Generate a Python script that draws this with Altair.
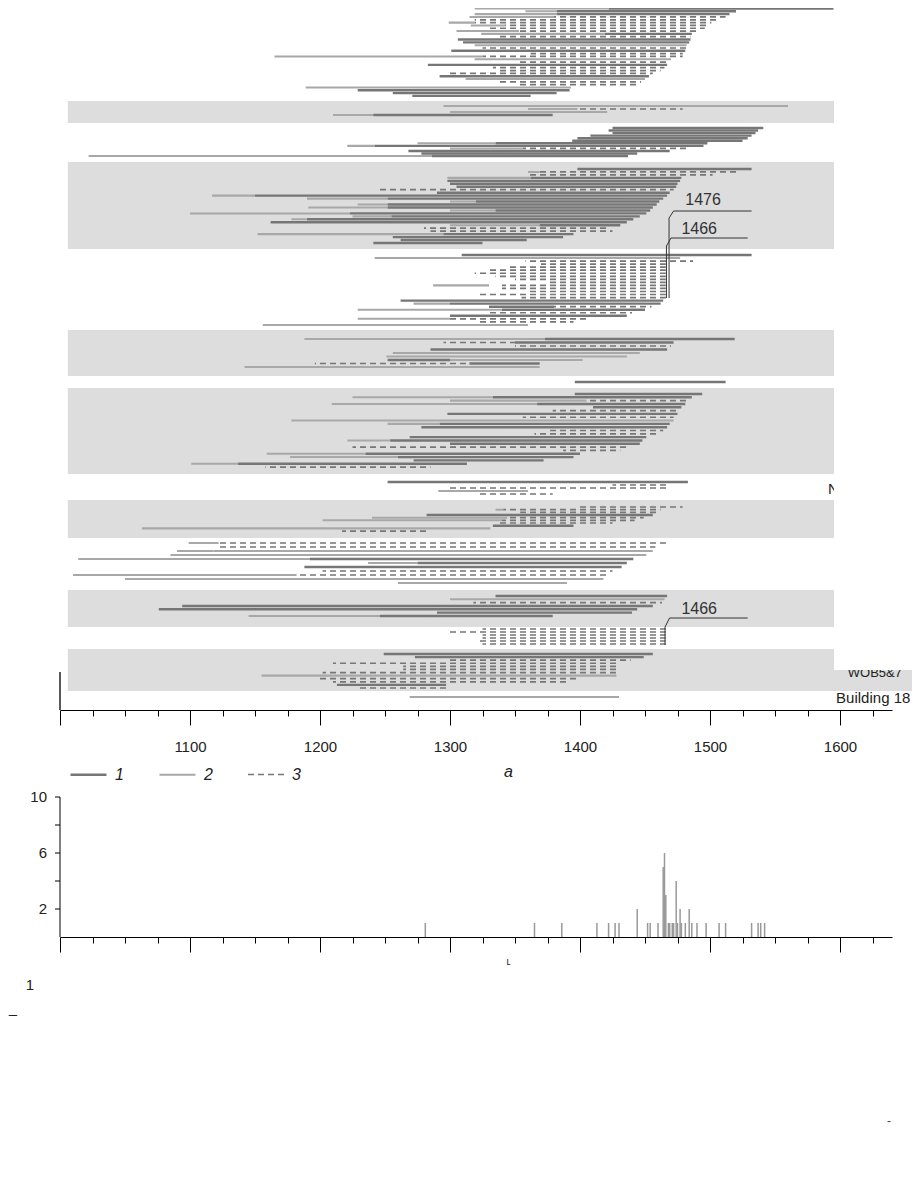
import altair as alt
import pandas as pd

# ---------------- top panel: series spans (start year, end year, line type) per row ----------------
GROUP_A = [
    [(1319, 1422, 2), (1422, 1595, 1)],
    [(1358, 1382, 2), (1382, 1520, 1)],
    [(1319, 1382, 2), (1382, 1515, 1)],
    [(1315, 1380, 2), (1380, 1512, 3)],
    [(1319, 1507, 3)],
    [(1299, 1319, 2), (1319, 1501, 3)],
    [(1316, 1342, 2), (1342, 1500, 3)],
    [(1330, 1496, 3)],
    [(1305, 1353, 2), (1353, 1490, 3)],
    [(1324, 1419, 2), (1419, 1486, 1)],
    [(1338, 1485, 3)],
    [(1306, 1485, 1)],
    [(1310, 1484, 1)],
    [(1319, 1482, 2)],
    [(1325, 1482, 3)],
    [(1301, 1481, 1)],
    [(1362, 1479, 3)],
    [(1165, 1325, 2), (1325, 1479, 3)],
    [(1319, 1470, 2)],
    [(1353, 1468, 3)],
    [(1283, 1467, 1)],
    [(1333, 1465, 3)],
    [(1336, 1462, 3)],
    [(1299, 1456, 3)],
    [(1292, 1453, 1)],
    [(1312, 1450, 2)],
    [(1338, 1447, 3)],
    [(1353, 1445, 3)],
    [(1189, 1393, 2)],
    [(1229, 1392, 1)],
    [(1256, 1382, 1)],
    [(1271, 1362, 1)],
]
GROUP_B = [
    [(1295, 1560, 2)],
    [(1360, 1398, 2), (1398, 1479, 3)],
    [(1300, 1421, 2)],
    [(1210, 1241, 2), (1241, 1379, 1)],
]
GROUP_C = [
    [(1425, 1541, 1)],
    [(1422, 1537, 1)],
    [(1425, 1535, 1)],
    [(1408, 1532, 1)],
    [(1398, 1529, 1)],
    [(1394, 1525, 1)],
    [(1275, 1335, 2), (1335, 1498, 1)],
    [(1221, 1242, 2), (1242, 1495, 1)],
    [(1300, 1356, 2), (1356, 1482, 3)],
    [(1268, 1469, 1)],
    [(1278, 1444, 1)],
    [(1022, 1286, 2), (1286, 1437, 1)],
]
GROUP_D = [
    [(1398, 1532, 1)],
    [(1360, 1369, 2), (1369, 1523, 3)],
    [(1360, 1502, 3)],
    [(1298, 1362, 2), (1362, 1478, 1)],
    [(1298, 1477, 1)],
    [(1300, 1475, 1)],
    [(1305, 1474, 1)],
    [(1244, 1472, 3)],
    [(1290, 1469, 1)],
    [(1117, 1150, 2), (1150, 1467, 1)],
    [(1190, 1252, 2), (1252, 1464, 1)],
    [(1300, 1320, 2), (1320, 1461, 1)],
    [(1229, 1252, 2), (1252, 1459, 1)],
    [(1191, 1252, 2), (1252, 1456, 1)],
    [(1300, 1335, 2), (1335, 1454, 1)],
    [(1100, 1223, 2), (1223, 1451, 1)],
    [(1225, 1255, 2), (1255, 1446, 1)],
    [(1178, 1190, 2), (1190, 1441, 1)],
    [(1162, 1436, 1)],
    [(1300, 1369, 2), (1369, 1431, 1)],
    [(1280, 1422, 3)],
    [(1285, 1425, 3)],
    [(1152, 1295, 2), (1295, 1395, 1)],
    [(1256, 1387, 1)],
    [(1262, 1359, 1)],
    [(1241, 1325, 1)],
]
GROUP_E = [
    [(1309, 1532, 1)],
    [(1242, 1477, 2)],
    [(1358, 1487, 3)],
    [(1370, 1466, 3)],
    [(1345, 1466, 3)],
    [(1330, 1466, 3)],
    [(1319, 1466, 3)],
    [(1335, 1466, 3)],
    [(1350, 1466, 3)],
    [(1375, 1466, 3)],
    [(1287, 1330, 2), (1340, 1466, 3)],
    [(1340, 1466, 3)],
    [(1360, 1466, 3)],
    [(1323, 1466, 3)],
    [(1355, 1466, 3)],
    [(1262, 1464, 1)],
    [(1272, 1300, 2), (1300, 1462, 1)],
    [(1330, 1380, 1), (1380, 1455, 3)],
    [(1229, 1340, 2), (1340, 1450, 1)],
    [(1330, 1440, 3)],
    [(1300, 1436, 1)],
    [(1229, 1300, 2), (1300, 1405, 3)],
    [(1320, 1395, 3)],
    [(1156, 1360, 2)],
]
GROUP_F = [
    [(1188, 1373, 2), (1373, 1519, 1)],
    [(1295, 1350, 3), (1350, 1472, 1)],
    [(1350, 1470, 3)],
    [(1285, 1467, 1)],
    [(1256, 1446, 2)],
    [(1251, 1436, 2)],
    [(1252, 1300, 1), (1300, 1402, 2)],
    [(1196, 1315, 3), (1315, 1369, 1)],
    [(1142, 1369, 2)],
]
GROUP_G = [
    [(1396, 1512, 1)],
]
GROUP_H = [
    [(1396, 1494, 1)],
    [(1225, 1333, 2), (1333, 1486, 1)],
    [(1300, 1405, 2), (1405, 1483, 3)],
    [(1209, 1367, 2), (1367, 1481, 1)],
    [(1410, 1478, 1)],
    [(1379, 1475, 3)],
    [(1298, 1475, 1)],
    [(1356, 1472, 3)],
    [(1178, 1472, 2)],
    [(1252, 1292, 2), (1292, 1469, 1)],
    [(1278, 1467, 1)],
    [(1377, 1464, 3)],
    [(1365, 1461, 3)],
    [(1269, 1451, 1)],
    [(1221, 1254, 2), (1254, 1448, 1)],
    [(1300, 1446, 1)],
    [(1225, 1436, 3)],
    [(1387, 1431, 3)],
    [(1159, 1235, 2), (1235, 1400, 1)],
    [(1177, 1260, 2), (1260, 1395, 1)],
    [(1272, 1372, 1)],
    [(1101, 1137, 2), (1137, 1313, 1)],
    [(1158, 1285, 3)],
]
GROUP_I = [
    [(1252, 1483, 1)],
    [(1425, 1467, 3)],
    [(1300, 1467, 3)],
    [(1291, 1360, 2)],
    [(1323, 1379, 3)],
]
GROUP_J = [
    [(1400, 1479, 3)],
    [(1335, 1341, 2), (1341, 1462, 3)],
    [(1354, 1460, 3)],
    [(1282, 1456, 1)],
    [(1240, 1344, 2), (1344, 1449, 3)],
    [(1202, 1340, 2), (1340, 1442, 3)],
    [(1338, 1425, 3)],
    [(1333, 1395, 1)],
    [(1063, 1331, 2)],
    [(1217, 1282, 3)],
]
GROUP_K = [
    [(1099, 1122, 2), (1122, 1467, 3)],
    [(1122, 1458, 3)],
    [(1090, 1118, 2), (1118, 1456, 2)],
    [(1085, 1451, 2)],
    [(1014, 1192, 2), (1192, 1441, 1)],
    [(1237, 1275, 2), (1275, 1436, 1)],
    [(1188, 1432, 1)],
    [(1202, 1425, 3)],
    [(1010, 1182, 2), (1182, 1421, 3)],
    [(1050, 1418, 2)],
    [(1260, 1390, 2)],
]
GROUP_L = [
    [(1335, 1467, 1)],
    [(1300, 1465, 2)],
    [(1318, 1463, 3)],
    [(1094, 1456, 1)],
    [(1076, 1444, 1)],
    [(1290, 1440, 1)],
    [(1145, 1246, 2), (1246, 1379, 1)],
]
GROUP_M = [
    [(1325, 1466, 3)],
    [(1300, 1466, 3)],
    [(1325, 1466, 3)],
    [(1325, 1466, 3)],
    [(1322, 1466, 3)],
    [(1325, 1466, 3)],
]
GROUP_N = [
    [(1249, 1456, 1)],
    [(1273, 1449, 1)],
    [(1300, 1439, 3)],
    [(1210, 1428, 3)],
    [(1264, 1428, 3)],
    [(1264, 1428, 3)],
    [(1202, 1428, 3)],
    [(1155, 1428, 2)],
    [(1197, 1400, 3)],
    [(1210, 1390, 3)],
    [(1213, 1297, 1)],
    [(1230, 1300, 3)],
]
GROUP_O = [
    [(1269, 1430, 2)],
]
GROUPS = [GROUP_A, GROUP_B, GROUP_C, GROUP_D, GROUP_E, GROUP_F, GROUP_G, GROUP_H,
          GROUP_I, GROUP_J, GROUP_K, GROUP_L, GROUP_M, GROUP_N, GROUP_O]

# layout of the groups: slot of first row and row spacing
GROUP_FIRST = [8.5, 106, 128, 169, 255, 339, 382, 394, 482, 507, 543, 596, 629, 654, 697]
GROUP_PITCH = [2.82, 3, 2.55, 2.96, 3.04, 3.5, 3, 3.32, 3, 2.67, 4, 3.33, 3, 3.09, 3]

# grey building bands
BAND_TOP = [101, 162, 330, 388, 500, 590, 649]
BAND_BOTTOM = [123, 249, 376, 474, 538, 627, 691]
BAND_FROM, BAND_TO = 1006, 1662

TYPE_LABELS = ["1", "2", "3"]
TYPE_COLORS = ["#767676", "#a8a8a8", "#767676"]

# annotations
ANNOT_LABELS = ["1476", "1466", "1466"]
ANNOT_YEAR = [1468.5, 1466.5, 1465.4]
ANNOT_FOOT = [298, 298, 645]
ANNOT_ELBOW = [218, 246, 627]
ANNOT_ARM = [211, 238, 618]
ANNOT_ARM_END = [1532, 1529, 1529]
ANNOT_TEXT_YEAR = [1481, 1478, 1478]
ANNOT_TEXT_SLOT = [200, 229, 609]

# ---------------- bottom panel: felling-date histogram ----------------
HIST_YEARS = [1281, 1365, 1386, 1413, 1422, 1427, 1430, 1444, 1452, 1454, 1460, 1464, 1465,
              1466, 1468, 1469, 1471, 1472, 1474, 1475, 1477, 1478, 1481, 1484, 1486, 1490,
              1497, 1507, 1512, 1532, 1537, 1539, 1542]
HIST_COUNTS = [1, 1, 1, 1, 1, 1, 1, 2, 1, 1, 1, 5, 6,
               3, 1, 1, 1, 1, 4, 1, 2, 1, 1, 2, 1, 1,
               1, 1, 1, 1, 1, 1, 1]
HIST_TICKS = [2, 4, 6, 8, 10]
HIST_TICK_LABELS = ["2", "", "6", "", "10"]

MAJOR = [1000, 1100, 1200, 1300, 1400, 1500, 1600]
MINOR = [v for v in range(1025, 1640, 25) if v % 100]

FONT = "Liberation Sans, Arial, sans-serif"
FONT_N = "Liberation Sans Narrow, Liberation Sans, Arial, sans-serif"
PX_PER_YEAR = 832 / 640

# ---------------- data tables ----------------
recs = []
for first, pitch, group in zip(GROUP_FIRST, GROUP_PITCH, GROUPS):
    for i, segs in enumerate(group):
        slot = first + i * pitch
        for s, e, t in segs:
            recs.append({"slot": slot, "start": s, "end": e, "type": str(t),
                         "dash_off": ((s - 1000) * PX_PER_YEAR) % 10})
lines_df = pd.DataFrame(recs)

bands_df = pd.DataFrame({"top": BAND_TOP, "bottom": BAND_BOTTOM,
                         "x0": [BAND_FROM] * len(BAND_TOP), "x1": [BAND_TO] * len(BAND_TOP)})

lead = []
for k in range(len(ANNOT_LABELS)):
    pts = [(ANNOT_YEAR[k], ANNOT_FOOT[k]), (ANNOT_YEAR[k], ANNOT_ELBOW[k]),
           (ANNOT_YEAR[k] + 3.5, ANNOT_ARM[k]), (ANNOT_ARM_END[k], ANNOT_ARM[k])]
    for j, (xx, yy) in enumerate(pts):
        lead.append({"id": k, "ord": j, "x": xx, "y": yy})
lead_df = pd.DataFrame(lead)
annot_df = pd.DataFrame({"label": ANNOT_LABELS, "x": ANNOT_TEXT_YEAR, "y": ANNOT_TEXT_SLOT})

hist_df = pd.DataFrame({"year": HIST_YEARS, "count": HIST_COUNTS, "base": [0] * len(HIST_YEARS)})
hist_tick_df = pd.DataFrame({"v": HIST_TICKS, "lab": HIST_TICK_LABELS})

X_SCALE = alt.Scale(domain=[1000, 1640], nice=False, zero=False)
Y_TOP = alt.Scale(domain=[8, 710], range=[0, 702], nice=False, zero=False)
Y_HIST = alt.Scale(domain=[0, 10], range=[929, 789], nice=False, zero=False)

top_major_axis = alt.Axis(
    orient="bottom", offset=-227, values=MAJOR, tickSize=15, tickColor="#000", domainColor="#000",
    labelExpr="datum.value == 1000 ? '' : datum.label", labelFont=FONT_N, labelFontSize=15,
    labelColor="#222", labelPadding=14, labelOverlap=False, labelFlush=False, grid=False, format="d",
    title="a", titleFont=FONT, titleFontSize=16, titleFontStyle="italic", titleFontWeight="normal",
    titleColor="#222", titleX=448, titleY=61, titleBaseline="middle")
top_minor_axis = alt.Axis(orient="bottom", offset=-227, values=MINOR, tickSize=6, tickColor="#000",
                          labels=False, domain=False, grid=False, title=None)
bot_major_axis = alt.Axis(orient="bottom", values=MAJOR, tickSize=15, tickColor="#000", domainColor="#000",
                          labels=False, grid=False, title="ʟ", titleFontSize=10, titleColor="#222",
                          titleFontWeight="normal", titleX=448, titleY=19)
bot_minor_axis = alt.Axis(orient="bottom", values=MINOR, tickSize=6, tickColor="#000",
                          labels=False, domain=False, grid=False, title=None)

LEGEND = alt.Legend(title=None, orient="none", legendX=9, legendY=747, direction="horizontal",
                    symbolType="stroke", symbolSize=1296, symbolStrokeWidth=2.5, labelFont=FONT,
                    labelFontSize=16, labelFontStyle="italic", labelColor="#222", labelOffset=7,
                    columnPadding=31)

bands = alt.Chart(bands_df).mark_rect(color="#dddddd").encode(
    x=alt.X("x0:Q", scale=X_SCALE, axis=top_minor_axis), x2="x1:Q",
    y=alt.Y("top:Q", scale=Y_TOP, axis=None), y2="bottom:Q")

lines = alt.Chart(lines_df).mark_rule(strokeDashOffset={"expr": "datum.dash_off"}).encode(
    x=alt.X("start:Q", scale=X_SCALE, axis=top_major_axis), x2="end:Q",
    y=alt.Y("slot:Q", scale=Y_TOP, axis=None),
    color=alt.Color("type:N", scale=alt.Scale(domain=TYPE_LABELS, range=TYPE_COLORS), legend=LEGEND),
    strokeDash=alt.StrokeDash("type:N", scale=alt.Scale(domain=TYPE_LABELS, range=[[1, 0], [1, 0], [6, 4]]),
                              legend=LEGEND),
    strokeWidth=alt.StrokeWidth("type:O", scale=alt.Scale(domain=TYPE_LABELS, range=[2.4, 1.7, 2.4]),
                                legend=None),
)

leaders = alt.Chart(lead_df).mark_line(color="#333", strokeWidth=1).encode(
    x=alt.X("x:Q", scale=X_SCALE, axis=None), y=alt.Y("y:Q", scale=Y_TOP, axis=None),
    detail="id:N", order="ord:Q")
leader_text = alt.Chart(annot_df).mark_text(align="left", baseline="middle", font=FONT, fontSize=16,
                                            fill="#333").encode(
    x=alt.X("x:Q", scale=X_SCALE, axis=None), y=alt.Y("y:Q", scale=Y_TOP, axis=None), text="label:N")

left_line = alt.Chart(pd.DataFrame({"x": [1000], "y1": [672], "y2": [710]})).mark_rule(
    color="#222", strokeWidth=1.5).encode(
    x=alt.X("x:Q", scale=X_SCALE, axis=None), y=alt.Y("y1:Q", scale=Y_TOP, axis=None), y2="y2:Q")

hidden_labels = alt.Chart(pd.DataFrame({"t": ["N", "WOB5&7"], "x": [1590.8, 1606], "y": [494, 677],
                                        "s": [15, 13]})).mark_text(
    align="left", baseline="alphabetic", font=FONT, fill="#222").encode(
    x=alt.X("x:Q", scale=X_SCALE, axis=None), y=alt.Y("y:Q", scale=Y_TOP, axis=None), text="t:N",
    size=alt.Size("s:Q", scale=None, legend=None))

white_rect = alt.Chart(pd.DataFrame({"x0": [1595.4], "x1": [1662], "t": [8], "b": [670]})).mark_rect(
    color="white").encode(
    x=alt.X("x0:Q", scale=X_SCALE, axis=None), x2="x1:Q",
    y=alt.Y("t:Q", scale=Y_TOP, axis=None), y2="b:Q")

building = alt.Chart(pd.DataFrame({"t": ["Building 18"], "x": [1597], "y": [703]})).mark_text(
    align="left", baseline="alphabetic", font=FONT, fontSize=15, fill="#222").encode(
    x=alt.X("x:Q", scale=X_SCALE, axis=None), y=alt.Y("y:Q", scale=Y_TOP, axis=None), text="t:N")

# histogram
hist = alt.Chart(hist_df).mark_rule(color="#999999", strokeWidth=1.5).encode(
    x=alt.X("year:Q", scale=X_SCALE, axis=bot_major_axis),
    y=alt.Y("base:Q", scale=Y_HIST, axis=None), y2="count:Q")
hist_minor = alt.Chart(hist_df).mark_point(opacity=0).encode(
    x=alt.X("year:Q", scale=X_SCALE, axis=bot_minor_axis),
    y=alt.Y("base:Q", scale=Y_HIST, axis=None))

# histogram y axis (line, ticks, labels) drawn from its scale
y_axis_line = alt.Chart(pd.DataFrame({"a": [0], "b": [10]})).mark_rule(color="#000", strokeWidth=1).encode(
    x=alt.value(0), y=alt.Y("a:Q", scale=Y_HIST, axis=None), y2="b:Q")
y_ticks = alt.Chart(hist_tick_df).mark_rule(color="#000", strokeWidth=1).encode(
    x=alt.value(-5), x2=alt.value(0), y=alt.Y("v:Q", scale=Y_HIST, axis=None))
y_labels = alt.Chart(hist_tick_df).mark_text(align="right", baseline="middle", font=FONT_N,
                                            fontSize=15, fill="#222").encode(
    x=alt.value(-13), y=alt.Y("v:Q", scale=Y_HIST, axis=None), text="lab:N")

deco1 = alt.Chart(pd.DataFrame({"t": ["1"]})).mark_text(font=FONT, fontSize=15, fill="#222").encode(
    x=alt.value(-30), y=alt.value(977), text="t:N")
deco2 = alt.Chart(pd.DataFrame({"t": ["–"]})).mark_text(font=FONT, fontSize=15, fill="#222").encode(
    x=alt.value(-47), y=alt.value(1006), text="t:N")
deco3 = alt.Chart(pd.DataFrame({"t": ["-"]})).mark_text(font=FONT, fontSize=12, fill="#444").encode(
    x=alt.value(829), y=alt.value(1113), text="t:N")

chart = alt.layer(
    bands, lines, leaders, leader_text, left_line, hidden_labels, white_rect, building,
    hist, hist_minor, y_axis_line, y_ticks, y_labels, deco1, deco2, deco3
).resolve_scale(y="independent").resolve_axis(x="independent", y="independent").properties(
    width=832, height=929,
    autosize=alt.AutoSizeParams(type="none"),
    padding={"left": 52, "top": 0, "right": 20, "bottom": 190},
).configure_view(stroke=None)

chart.save("out.html", embed_options={"renderer": "svg", "actions": False})
